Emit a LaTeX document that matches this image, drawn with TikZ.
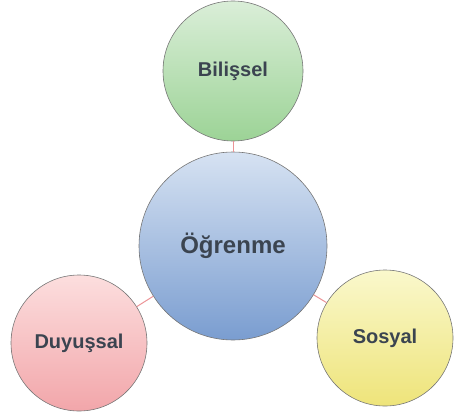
\documentclass[tikz,border=0pt]{standalone}
\usepackage{fontspec}
\setmainfont{Liberation Sans}
\usepackage{xcolor}
\usetikzlibrary{calc}
\definecolor{labelgray}{HTML}{3B4450}
\definecolor{rimgray}{HTML}{767676}
\definecolor{linkpink}{HTML}{EC9497}
\tikzset{
    bubble/.style={circle,draw=rimgray,line width=.6pt,inner sep=0pt,
        text=labelgray,font=\bfseries\fontsize{20}{24}\selectfont},
    link/.style={draw=linkpink,line width=1pt}
}
\begin{document}
\begin{tikzpicture}[x=1pt,y=1pt]
        \useasboundingbox (0,0) rectangle (454,416);
        \coordinate (C) at (233,170);
        \coordinate (T) at (233,345);
        \coordinate (L) at (79,73);
        \coordinate (R) at (385,78);
        \node[bubble,minimum size=188pt,top color={rgb,255:red,214;green,226;blue,242},bottom color={rgb,255:red,122;green,157;blue,208},
            font=\bfseries\fontsize{24}{28}\selectfont] (ogr) at (C) {Öğrenme};
        \node[bubble,minimum size=140pt,top color={rgb,255:red,218;green,238;blue,216},bottom color={rgb,255:red,156;green,211;blue,150}] (bil) at (T) {Bilişsel};
        \node[bubble,minimum size=136pt,top color={rgb,255:red,252;green,222;blue,222},bottom color={rgb,255:red,242;green,166;blue,170}] (duy) at (L) {Duyuşsal};
        \node[bubble,minimum size=136pt,top color={rgb,255:red,250;green,248;blue,204},bottom color={rgb,255:red,238;green,228;blue,122}] (sos) at (R) {Sosyal};
        \draw[link] (ogr) -- (bil);
        \draw[link] (ogr) -- (duy);
        \draw[link] (ogr) -- (sos);
    \end{tikzpicture}
\end{document}
